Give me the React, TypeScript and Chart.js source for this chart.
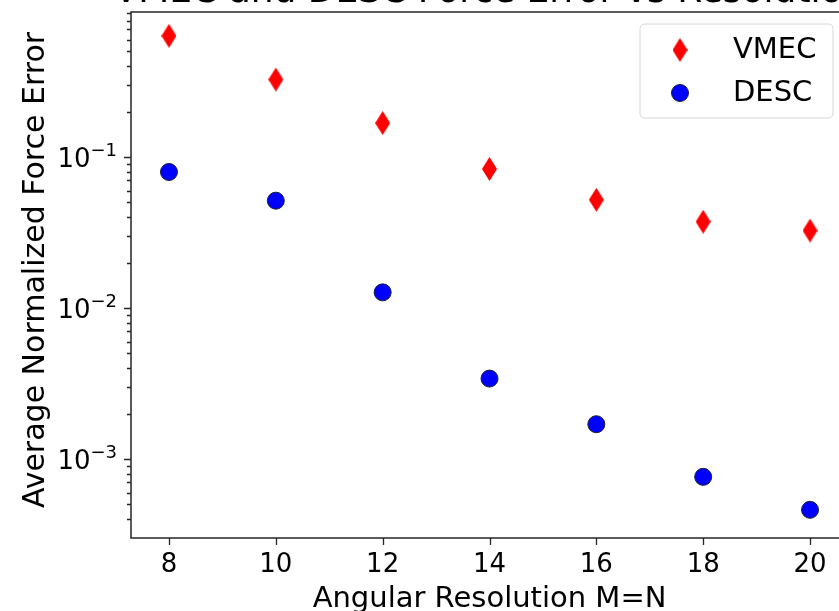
import React, { useEffect, useRef } from 'react';
import { Chart, registerables } from 'chart.js';

Chart.register(...registerables);

// Angular resolution (M = N) and the average normalized force error for each code
const resolutions = [8, 10, 12, 14, 16, 18, 20];
const vmecError = [0.635, 0.326, 0.168, 0.0834, 0.0521, 0.0373, 0.0326];
const descError = [0.0796, 0.0514, 0.0127, 0.00341, 0.0017, 0.000762, 0.000461];

// Axis ticks and labels
const xTicks = [8, 10, 12, 14, 16, 18, 20];
const yDecadeExponents = [-3, -2, -1];
const seriesNames = ['VMEC', 'DESC'];

const X_MIN = 7.289;
const X_MAX = 20.711;
const Y_MIN = 3.07e-4;
const Y_MAX = 0.913;

const FONT = '"DejaVu Sans", "Liberation Sans", sans-serif';
const VMEC_COLOR = '#ff0000';
const DESC_COLOR = '#0000ff';
const SPINE_COLOR = '#262626';

function makeThinDiamond(): HTMLCanvasElement {
  const w = 15;
  const h = 24;
  const c = document.createElement('canvas');
  c.width = w;
  c.height = h;
  const g = c.getContext('2d')!;
  g.fillStyle = VMEC_COLOR;
  g.beginPath();
  g.moveTo(w / 2, 0);
  g.lineTo(w, h / 2);
  g.lineTo(w / 2, h);
  g.lineTo(0, h / 2);
  g.closePath();
  g.fill();
  return c;
}

function drawCircle(ctx: CanvasRenderingContext2D, x: number, y: number) {
  ctx.beginPath();
  ctx.arc(x, y, 8.5, 0, Math.PI * 2);
  ctx.fillStyle = DESC_COLOR;
  ctx.fill();
  ctx.lineWidth = 1;
  ctx.strokeStyle = '#1c1c3a';
  ctx.stroke();
}

export default function App() {
  const canvasRef = useRef<HTMLCanvasElement | null>(null);

  useEffect(() => {
    const canvas = canvasRef.current;
    if (!canvas) return;
    const diamond = makeThinDiamond();

    const framePlugin = {
      id: 'frameAndLabels',
      beforeDatasetsDraw(chart: any) {
        const { ctx, chartArea } = chart;
        const xs = chart.scales.x;
        const ys = chart.scales.y;
        ctx.save();
        ctx.strokeStyle = SPINE_COLOR;
        ctx.lineWidth = 1.5;
        ctx.strokeRect(chartArea.left, chartArea.top, chartArea.right - chartArea.left, chartArea.bottom - chartArea.top);

        // x tick marks
        ctx.lineWidth = 1.3;
        ctx.beginPath();
        xTicks.forEach((v) => {
          const px = Math.round(xs.getPixelForValue(v)) + 0.5;
          ctx.moveTo(px, chartArea.bottom);
          ctx.lineTo(px, chartArea.bottom + 7);
        });
        ctx.stroke();

        // y tick marks: majors at decades, minors at 2..9 x 10^n
        ctx.beginPath();
        for (let e = -4; e <= 0; e++) {
          for (let m = 1; m <= 9; m++) {
            const v = m * Math.pow(10, e);
            if (v < Y_MIN || v > Y_MAX) continue;
            const py = Math.round(ys.getPixelForValue(v)) + 0.5;
            const len = m === 1 ? 7 : 4;
            ctx.moveTo(chartArea.left, py);
            ctx.lineTo(chartArea.left - len, py);
          }
        }
        ctx.stroke();
        ctx.restore();
      },
      afterDraw(chart: any) {
        const { ctx, chartArea } = chart;
        const xs = chart.scales.x;
        const ys = chart.scales.y;
        ctx.save();
        ctx.fillStyle = '#000';

        // title (sits above the plot frame)
        ctx.font = `36px ${FONT}`;
        ctx.textAlign = 'center';
        ctx.textBaseline = 'alphabetic';
        ctx.fillText('VMEC and DESC Force Error vs Resolution', (chartArea.left + chartArea.right) / 2, 1.5);

        // x tick labels
        ctx.font = `26px ${FONT}`;
        ctx.textAlign = 'center';
        xTicks.forEach((v) => {
          ctx.fillText(String(v), xs.getPixelForValue(v), 572);
        });

        // y tick labels as 10^n
        yDecadeExponents.forEach((e) => {
          const py = ys.getPixelForValue(Math.pow(10, e));
          const sup = '\u2212' + String(-e);
          ctx.font = `18px ${FONT}`;
          const supW = ctx.measureText(sup).width;
          ctx.font = `26px ${FONT}`;
          const baseW = ctx.measureText('10').width;
          const right = chartArea.left - 14;
          ctx.textAlign = 'left';
          ctx.fillText('10', right - supW - baseW, py + 10);
          ctx.font = `18px ${FONT}`;
          ctx.fillText(sup, right - supW, py - 1);
        });

        // axis titles
        ctx.font = `29px ${FONT}`;
        ctx.textAlign = 'center';
        ctx.fillText('Angular Resolution M=N', (chartArea.left + 848) / 2, 607);
        ctx.save();
        ctx.font = `30px ${FONT}`;
        ctx.translate(44, 270);
        ctx.rotate(-Math.PI / 2);
        ctx.fillText('Average Normalized Force Error', 0, 0);
        ctx.restore();

        // legend
        const bx = 640, by = 24, bw = 193, bh = 94, r = 5;
        ctx.beginPath();
        ctx.moveTo(bx + r, by);
        ctx.lineTo(bx + bw - r, by);
        ctx.quadraticCurveTo(bx + bw, by, bx + bw, by + r);
        ctx.lineTo(bx + bw, by + bh - r);
        ctx.quadraticCurveTo(bx + bw, by + bh, bx + bw - r, by + bh);
        ctx.lineTo(bx + r, by + bh);
        ctx.quadraticCurveTo(bx, by + bh, bx, by + bh - r);
        ctx.lineTo(bx, by + r);
        ctx.quadraticCurveTo(bx, by, bx + r, by);
        ctx.closePath();
        ctx.fillStyle = 'rgba(255,255,255,0.85)';
        ctx.fill();
        ctx.strokeStyle = '#d6d6d6';
        ctx.lineWidth = 1;
        ctx.stroke();

        ctx.drawImage(diamond, 680 - diamond.width / 2, 50 - diamond.height / 2);
        drawCircle(ctx, 680, 93);
        ctx.fillStyle = '#000';
        ctx.font = `29px ${FONT}`;
        ctx.textAlign = 'left';
        ctx.fillText(seriesNames[0], 733, 58);
        ctx.fillText(seriesNames[1], 733, 101);
        ctx.restore();
      },
    };

    const chart = new Chart(canvas, {
      type: 'scatter',
      data: {
        datasets: [
          {
            label: seriesNames[0],
            data: resolutions.map((x, i) => ({ x, y: vmecError[i] })),
            pointStyle: diamond,
            pointRadius: 12,
            backgroundColor: VMEC_COLOR,
            borderWidth: 0,
          },
          {
            label: seriesNames[1],
            data: resolutions.map((x, i) => ({ x, y: descError[i] })),
            pointStyle: 'circle',
            pointRadius: 8.5,
            backgroundColor: DESC_COLOR,
            borderColor: '#1c1c3a',
            borderWidth: 1,
          },
        ],
      },
      options: {
        responsive: false,
        animation: false,
        devicePixelRatio: 1,
        layout: { padding: { left: 131, top: 10, right: 52, bottom: 73 } },
        plugins: {
          legend: { display: false },
          tooltip: { enabled: false },
          title: { display: false },
        },
        scales: {
          x: { type: 'linear', min: X_MIN, max: X_MAX, display: false },
          y: { type: 'logarithmic', min: Y_MIN, max: Y_MAX, display: false },
        },
      },
      plugins: [framePlugin],
    });

    return () => chart.destroy();
  }, []);

  return (
    <div style={{ position: 'fixed', left: 0, top: 0, width: 839, height: 611, overflow: 'hidden', background: '#fff' }}>
      <canvas ref={canvasRef} width={900} height={611} style={{ position: 'absolute', left: 0, top: 0 }} />
    </div>
  );
}
